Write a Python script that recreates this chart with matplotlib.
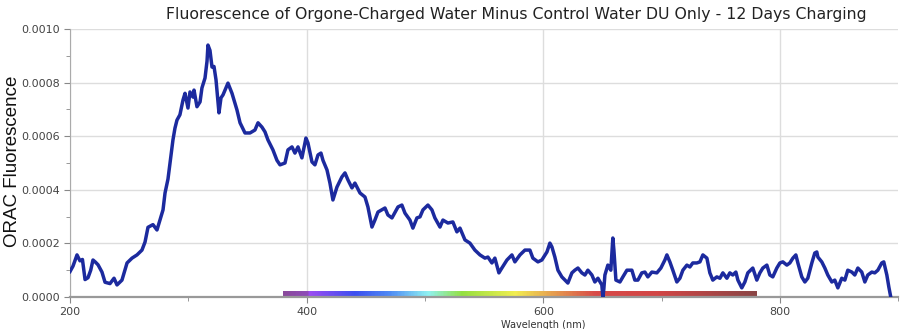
import numpy as np
import matplotlib
matplotlib.use('Agg')
import matplotlib.pyplot as plt
from matplotlib.colors import LinearSegmentedColormap
from matplotlib.ticker import MultipleLocator

# wavelength (nm) and fluorescence difference (units of 1e-4)
wavelength = [
    200.0, 202.5, 205.9, 208.4, 210.5, 212.7, 215.2, 217.5, 219.4, 221.5, 223.7, 227.0, 229.6,
    233.8, 237.2, 239.7, 243.9, 248.2, 252.4, 256.6, 260.8, 263.4, 265.9, 270.1,
    273.5, 276.0, 278.6, 280.3, 282.8, 284.5, 287.0, 288.7, 290.4, 292.9, 295.5,
    297.2, 299.7, 301.4, 303.9, 304.8, 307.3, 309.9, 311.5, 314.1, 315.8, 316.6,
    318.3, 320.0, 321.7, 323.4, 325.9, 327.6, 329.3, 331.8, 333.5, 336.9, 341.1,
    343.7, 347.9, 352.1, 356.3, 358.9, 362.2, 364.8, 367.3, 371.5, 374.9, 377.5,
    381.7, 384.2, 387.6, 390.1, 392.7, 396.0, 399.4, 401.1, 404.5, 407.0, 409.6,
    412.1, 413.8, 417.2, 419.7, 422.2, 425.6, 429.8, 432.4, 434.9, 438.3, 440.8,
    445.1, 449.3, 451.8, 455.2, 457.7, 460.3, 466.2, 468.7, 472.1, 477.2, 480.5,
    483.1, 487.3, 489.8, 493.2, 495.8, 498.3, 502.5, 505.9, 508.4, 512.7, 515.2,
    519.4, 523.6, 527.0, 529.6, 533.8, 538.0, 542.2, 546.5, 550.7, 553.2, 556.6,
    559.1, 562.5, 565.0, 569.3, 573.5, 576.0, 580.3, 584.5, 588.7, 591.2, 595.5,
    598.8, 603.1, 605.6, 607.3, 609.8, 612.4, 615.7, 618.3, 620.8, 624.2, 626.7,
    629.3, 632.6, 635.2, 637.7, 641.1, 643.6, 646.2, 649.5, 650.4, 651.2, 652.1,
    654.6, 657.1, 658.8, 659.7, 661.4, 664.8, 667.3, 670.7, 674.9, 677.4, 680.0,
    683.3, 685.9, 688.4, 691.8, 696.0, 699.4, 702.8, 704.5, 707.0, 709.5, 712.9,
    715.5, 718.0, 721.4, 723.9, 726.4, 729.8, 732.4, 734.9, 738.3, 740.8, 743.3,
    746.7, 749.3, 751.8, 755.2, 757.7, 760.2, 762.8, 764.5, 767.8, 770.4, 772.9,
    777.1, 780.5, 783.1, 785.6, 789.0, 791.5, 794.0, 797.4, 800.0, 802.5, 805.9,
    808.4, 811.0, 813.5, 815.2, 818.5, 821.1, 823.6, 827.0, 829.5, 831.2, 832.1,
    835.4, 838.0, 840.5, 843.9, 846.4, 849.0, 852.3, 854.9, 857.4, 860.8, 863.3,
    865.9, 869.2, 871.8, 874.3, 877.7, 880.2, 882.8, 886.1, 887.8, 890.4, 892.1,
    893.7,
]
fluor = [
    0.95, 1.15, 1.57, 1.35, 1.4, 0.65, 0.72, 1.0, 1.38, 1.3, 1.2, 0.93, 0.55,
    0.5, 0.7, 0.45, 0.63, 1.27, 1.45, 1.57, 1.75, 2.05, 2.6, 2.7,
    2.5, 2.87, 3.25, 3.88, 4.4, 5.0, 5.86, 6.3, 6.6, 6.8, 7.35,
    7.6, 7.05, 7.65, 7.46, 7.72, 7.1, 7.28, 7.8, 8.17, 8.8, 9.4,
    9.2, 8.58, 8.6, 8.1, 6.87, 7.43, 7.54, 7.8, 7.98, 7.6, 6.98,
    6.5, 6.12, 6.12, 6.23, 6.5, 6.34, 6.16, 5.86, 5.49, 5.1, 4.93,
    5.0, 5.49, 5.6, 5.37, 5.6, 5.19, 5.93, 5.75, 5.04, 4.93, 5.3,
    5.37, 5.1, 4.74, 4.25, 3.62, 4.1, 4.48, 4.63, 4.37, 4.07, 4.25,
    3.88, 3.73, 3.36, 2.61, 2.87, 3.17, 3.32, 3.06, 2.95, 3.36, 3.43,
    3.13, 2.87, 2.57, 2.95, 2.99, 3.25, 3.43, 3.25, 2.95, 2.61, 2.87,
    2.76, 2.8, 2.43, 2.57, 2.13, 2.01, 1.75, 1.57, 1.45, 1.49, 1.27,
    1.45, 0.9, 1.08, 1.38, 1.57, 1.31, 1.57, 1.75, 1.75, 1.45, 1.31,
    1.38, 1.68, 2.01, 1.87, 1.49, 1.0, 0.75, 0.63, 0.52, 0.9, 1.0,
    1.08, 0.9, 0.82, 1.0, 0.82, 0.56, 0.7, 0.45, 0.0, 0.3, 0.82,
    1.19, 1.0, 2.2, 1.75, 0.63, 0.56, 0.75, 1.0, 1.0, 0.63, 0.63,
    0.9, 0.93, 0.75, 0.93, 0.9, 1.08, 1.38, 1.57, 1.31, 1.0, 0.56,
    0.7, 1.0, 1.19, 1.12, 1.27, 1.27, 1.31, 1.57, 1.45, 0.9, 0.63,
    0.75, 0.7, 0.9, 0.7, 0.9, 0.82, 0.93, 0.63, 0.34, 0.56, 0.9,
    1.08, 0.63, 0.9, 1.08, 1.19, 0.82, 0.75, 1.08, 1.27, 1.31, 1.19,
    1.27, 1.45, 1.57, 1.27, 0.75, 0.56, 0.7, 1.27, 1.64, 1.68, 1.49,
    1.31, 1.08, 0.82, 0.56, 0.63, 0.34, 0.7, 0.63, 1.0, 0.93, 0.82,
    1.08, 0.93, 0.56, 0.82, 0.93, 0.9, 1.0, 1.27, 1.31, 0.82, 0.37,
    0.0,
]

# visible spectrum strip under the curve
spec_nm = [380, 399, 402, 440, 470, 502, 531, 576, 604, 644, 697, 780]
spec_colors = ['#8a4a9c', '#8e4cb8', '#9a4cf2', '#3c4ff0', '#4f8cf5', '#90f2f2',
               '#94e040', '#f2ee50', '#e8a850', '#d84a48', '#d24646', '#8b4545']

wl = np.array(wavelength)
y = np.array(fluor) * 1e-4

fig = plt.figure(figsize=(9, 3.29), dpi=100)
ax = fig.add_axes([0.0778, 0.0973, 0.9202, 0.8146])

pos = [(n - spec_nm[0]) / (spec_nm[-1] - spec_nm[0]) for n in spec_nm]
cmap = LinearSegmentedColormap.from_list('spec', list(zip(pos, spec_colors)))
ax.imshow(np.linspace(0, 1, 400).reshape(1, -1), cmap=cmap, aspect='auto',
          extent=[spec_nm[0], spec_nm[-1], 0, 0.000019], zorder=2)

ax.plot(wl, y, color='#1c2a9e', lw=2.5, zorder=3, solid_joinstyle='round')

ax.set_xlim(200, 900)
ax.set_ylim(0, 0.001)
ax.xaxis.set_major_locator(MultipleLocator(200))
ax.xaxis.set_minor_locator(MultipleLocator(100))
ax.yaxis.set_major_locator(MultipleLocator(0.0002))
ax.yaxis.set_minor_locator(MultipleLocator(0.0001))
ax.yaxis.set_major_formatter(plt.FuncFormatter(lambda v, p: f'{v:.4f}'))
ax.grid(True, which='major', color='#dddddd', lw=1)
ax.set_axisbelow(True)
for s in ['top', 'right']:
    ax.spines[s].set_visible(False)
ax.spines['left'].set_color('#aaaaaa')
ax.spines['bottom'].set_color('#999999')
ax.spines['bottom'].set_linewidth(1.6)
ax.tick_params(which='both', colors='#888888', labelcolor='#444444', labelsize=8, length=4)
ax.tick_params(which='minor', length=3)

fig.text(0.574, 0.955, 'Fluorescence of Orgone-Charged Water Minus Control Water DU Only - 12 Days Charging',
         ha='center', va='center', fontsize=11.3, color='#222222')
fig.text(0.014, 0.51, 'ORAC Fluorescence', rotation=90, ha='center', va='center',
         fontsize=13.5, family='Liberation Sans', color='#111111')
ax.text(600, -0.000085, 'Wavelength (nm)', ha='center', va='top', fontsize=7, color='#333333')

fig.savefig('out.png', dpi=100)
